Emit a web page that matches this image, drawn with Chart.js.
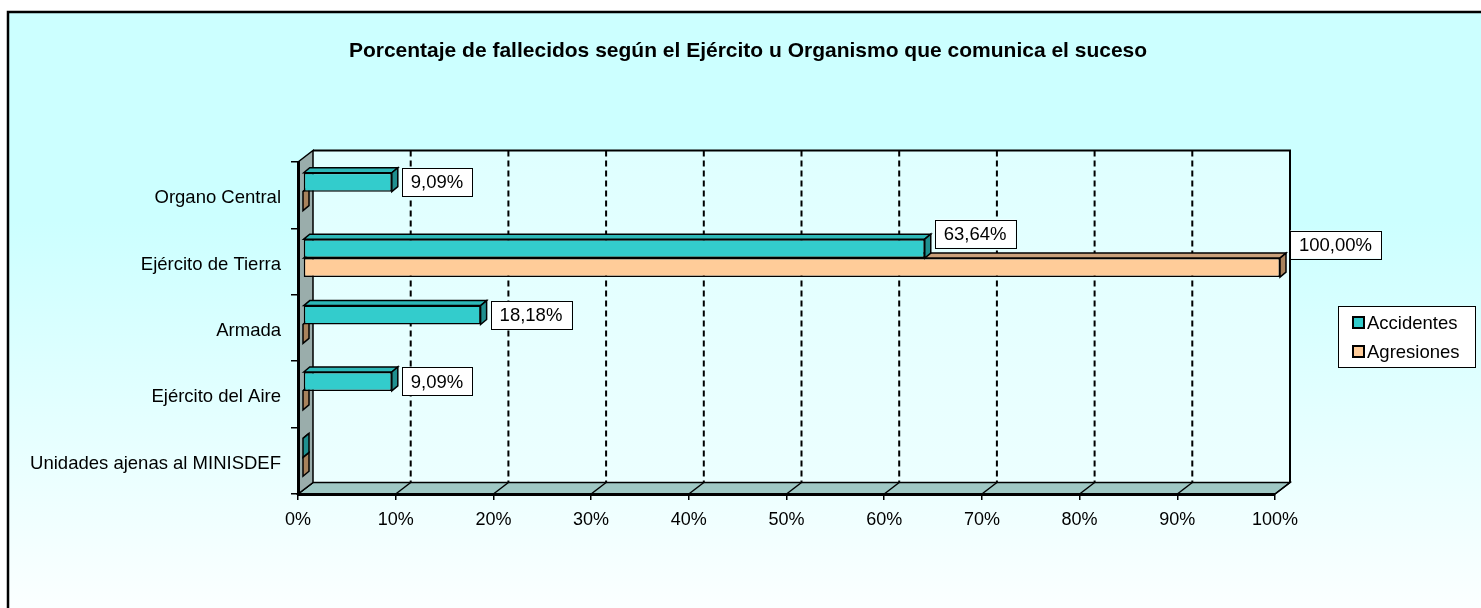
<!DOCTYPE html>
<html>
<head>
<meta charset="utf-8">
<script src="https://cdn.jsdelivr.net/npm/chart.js@4.4.0/dist/chart.umd.min.js"></script>
<style>
  html, body { margin: 0; padding: 0; background: #fff; }
</style>
</head>
<body>
<canvas id="chart" width="1481" height="608"></canvas>
<script>
const chartTitle = "Porcentaje de fallecidos según el Ejército u Organismo que comunica el suceso";
const categories = ["Organo Central", "Ejército de Tierra", "Armada", "Ejército del Aire", "Unidades ajenas al MINISDEF"];
const seriesNames = ["Accidentes", "Agresiones"];
const accidentes = [9.09, 63.64, 18.18, 9.09, 0];
const agresiones = [0, 100, 0, 0, 0];
const xTicks = [0, 10, 20, 30, 40, 50, 60, 70, 80, 90, 100];
const xTickLabels = ["0%", "10%", "20%", "30%", "40%", "50%", "60%", "70%", "80%", "90%", "100%"];

const FONT = '"Liberation Sans", Arial, sans-serif';
const WALL = { dx: 15, dy: -11.5 };     // depth of the walls / floor
const BAR3D = { dx: 6, dy: -5 };        // depth of each bar
const BAR_SHIFT = { dx: 5, dy: -3.5 };  // bars sit a bit behind the front plane
const faces = [
  { front: "#33cccc", top: "#2cb8b8", side: "#1f8f8f" },
  { front: "#ffcc99", top: "#c9a07a", side: "#a8825c" }
];
// Excel pushed the two Ejército de Tierra labels upward
const labelNudge = { "Ejército de Tierra": [-15, -23] };

function poly(ctx, pts, fill, stroke, lw) {
  ctx.beginPath();
  ctx.moveTo(pts[0][0], pts[0][1]);
  for (let i = 1; i < pts.length; i++) ctx.lineTo(pts[i][0], pts[i][1]);
  ctx.closePath();
  if (fill) { ctx.fillStyle = fill; ctx.fill(); }
  if (stroke) { ctx.strokeStyle = stroke; ctx.lineWidth = lw || 1; ctx.stroke(); }
}

const excel3d = {
  id: "excel3d",
  beforeDraw(chart) {
    const { ctx, chartArea: a, scales } = chart;
    const W = chart.width, H = chart.height;
    ctx.save();
    ctx.fillStyle = "#fff";
    ctx.fillRect(0, 0, W, H);
    const g = ctx.createLinearGradient(0, 12, 0, H);
    g.addColorStop(0, "#ccffff");
    g.addColorStop(0.35, "#ccffff");
    g.addColorStop(1, "#fbffff");
    ctx.fillStyle = g;
    ctx.fillRect(8, 12, W, H);
    ctx.strokeStyle = "#000";
    ctx.lineWidth = 2.5;
    ctx.beginPath();
    ctx.moveTo(8, H + 5); ctx.lineTo(8, 12); ctx.lineTo(W + 5, 12);
    ctx.stroke();

    ctx.fillStyle = "#000";
    ctx.font = "bold 21px " + FONT;
    ctx.textAlign = "center";
    ctx.textBaseline = "middle";
    ctx.fillText(chartTitle, 748, 51);

    const L = a.left, R = a.right, T = a.top, B = a.bottom, dx = WALL.dx, dy = WALL.dy;
    // back wall
    const wg = ctx.createLinearGradient(0, T + dy, 0, B + dy);
    wg.addColorStop(0, "#dfffff");
    wg.addColorStop(1, "#ecffff");
    ctx.fillStyle = wg;
    ctx.fillRect(L + dx, T + dy, R - L, B - T);
    ctx.setLineDash([6, 4]);
    ctx.lineWidth = 2;
    ctx.strokeStyle = "#000";
    xTicks.forEach(v => {
      if (v === xTicks[0] || v === xTicks[xTicks.length - 1]) return;
      const px = scales.x.getPixelForValue(v) + dx;
      ctx.beginPath(); ctx.moveTo(px, T + dy); ctx.lineTo(px, B + dy); ctx.stroke();
    });
    ctx.setLineDash([]);
    ctx.beginPath();
    ctx.moveTo(L + dx, T + dy); ctx.lineTo(R + dx, T + dy); ctx.lineTo(R + dx, B + dy);
    ctx.stroke();
    // floor
    poly(ctx, [[L, B], [R, B], [R + dx, B + dy], [L + dx, B + dy]], "#9fc8c4", "#000", 1.5);
    ctx.lineWidth = 1.5;
    xTicks.forEach(v => {
      const px = scales.x.getPixelForValue(v);
      ctx.beginPath(); ctx.moveTo(px, B); ctx.lineTo(px + dx, B + dy); ctx.stroke();
    });
    // left wall
    poly(ctx, [[L, T], [L + dx, T + dy], [L + dx, B + dy], [L, B]], "#9aadab", "#000", 1.5);
    ctx.restore();
  },
  beforeDatasetsDraw(chart) {
    chart.ctx.save();
    chart.ctx.translate(BAR_SHIFT.dx, BAR_SHIFT.dy);
  },
  afterDatasetDraw(chart, args) {
    const ctx = chart.ctx;
    const c = faces[args.index];
    const d = BAR3D;
    args.meta.data.forEach(bar => {
      const p = bar.getProps(["x", "y", "base", "height"], true);
      const top = p.y - p.height / 2, bot = p.y + p.height / 2;
      poly(ctx, [[p.base, top], [p.base + d.dx, top + d.dy], [p.x + d.dx, top + d.dy], [p.x, top]], c.top, "#000", 1.5);
      poly(ctx, [[p.x, top], [p.x + d.dx, top + d.dy], [p.x + d.dx, bot + d.dy], [p.x, bot]], c.side, "#000", 1.5);
    });
  },
  afterDatasetsDraw(chart) {
    const ctx = chart.ctx;
    ctx.restore();
    ctx.save();
    ctx.font = "18.5px " + FONT;
    ctx.textAlign = "left";
    ctx.textBaseline = "middle";
    chart.data.datasets.forEach((ds, di) => {
      chart.getDatasetMeta(di).data.forEach((bar, i) => {
        const v = ds.data[i];
        if (!v) return;
        const txt = v.toFixed(2).replace(".", ",") + "%";
        const tw = ctx.measureText(txt).width;
        const nudge = labelNudge[categories[i]] ? labelNudge[categories[i]][di] : 0;
        const bx = bar.x + BAR_SHIFT.dx + BAR3D.dx + 4;
        const cy = bar.y + BAR_SHIFT.dy + nudge;
        const bw = tw + 18, bh = 28;
        ctx.fillStyle = "#fff";
        ctx.fillRect(bx, cy - bh / 2, bw, bh);
        ctx.strokeStyle = "#000";
        ctx.lineWidth = 1;
        ctx.strokeRect(Math.round(bx) + 0.5, Math.round(cy - bh / 2) + 0.5, Math.round(bw), bh);
        ctx.fillStyle = "#000";
        ctx.fillText(txt, bx + 9, cy + 1);
      });
    });
    ctx.restore();
  },
  afterDraw(chart) {
    const ctx = chart.ctx;
    const lx = 1338, ly = 306, lw = 137, lh = 61;
    ctx.save();
    ctx.fillStyle = "#fff";
    ctx.fillRect(lx, ly, lw, lh);
    ctx.strokeStyle = "#000";
    ctx.lineWidth = 1;
    ctx.strokeRect(lx + 0.5, ly + 0.5, lw, lh);
    ctx.font = "18.5px " + FONT;
    ctx.textBaseline = "middle";
    ctx.textAlign = "left";
    chart.data.datasets.forEach((ds, i) => {
      const cy = ly + 17 + i * 29;
      ctx.fillStyle = ds.backgroundColor;
      ctx.fillRect(lx + 15, cy - 6, 11, 11);
      ctx.lineWidth = 2;
      ctx.strokeRect(lx + 15, cy - 6, 11, 11);
      ctx.fillStyle = "#000";
      ctx.fillText(ds.label, lx + 29, cy + 1);
    });
    ctx.restore();
  }
};

new Chart(document.getElementById("chart"), {
  type: "bar",
  data: {
    labels: categories,
    datasets: [
      {
        label: seriesNames[0],
        data: accidentes,
        backgroundColor: faces[0].front,
        borderColor: "#000",
        borderWidth: 1.5,
        borderSkipped: false,
        categoryPercentage: 0.57,
        barPercentage: 1
      },
      {
        label: seriesNames[1],
        data: agresiones,
        backgroundColor: faces[1].front,
        borderColor: "#000",
        borderWidth: 1.5,
        borderSkipped: false,
        categoryPercentage: 0.57,
        barPercentage: 1
      }
    ]
  },
  options: {
    indexAxis: "y",
    responsive: false,
    animation: false,
    layout: { padding: { top: 162, right: 206, bottom: 0, left: 10 } },
    plugins: {
      legend: { display: false },
      title: { display: false },
      tooltip: { enabled: false }
    },
    scales: {
      x: {
        type: "linear",
        min: 0,
        max: 100,
        afterBuildTicks: s => { s.ticks = xTicks.map(v => ({ value: v })); },
        afterFit: s => { s.height = 114; },
        ticks: {
          callback: (v, i) => xTickLabels[i],
          font: { family: FONT, size: 18 },
          color: "#000",
          padding: 9,
          maxRotation: 0,
          autoSkip: false
        },
        grid: { drawOnChartArea: false, drawTicks: true, tickLength: 6, color: "#000", lineWidth: 1.5 },
        border: { display: true, color: "#000", width: 3 }
      },
      y: {
        afterFit: s => { s.width = 288; },
        ticks: {
          font: { family: FONT, size: 18.5 },
          color: "#000",
          padding: 10,
          labelOffset: 3
        },
        grid: { drawOnChartArea: false, drawTicks: true, tickLength: 7, color: "#000", lineWidth: 1.5, offset: true },
        border: { display: true, color: "#000", width: 3 }
      }
    }
  },
  plugins: [excel3d]
});
</script>
</body>
</html>
